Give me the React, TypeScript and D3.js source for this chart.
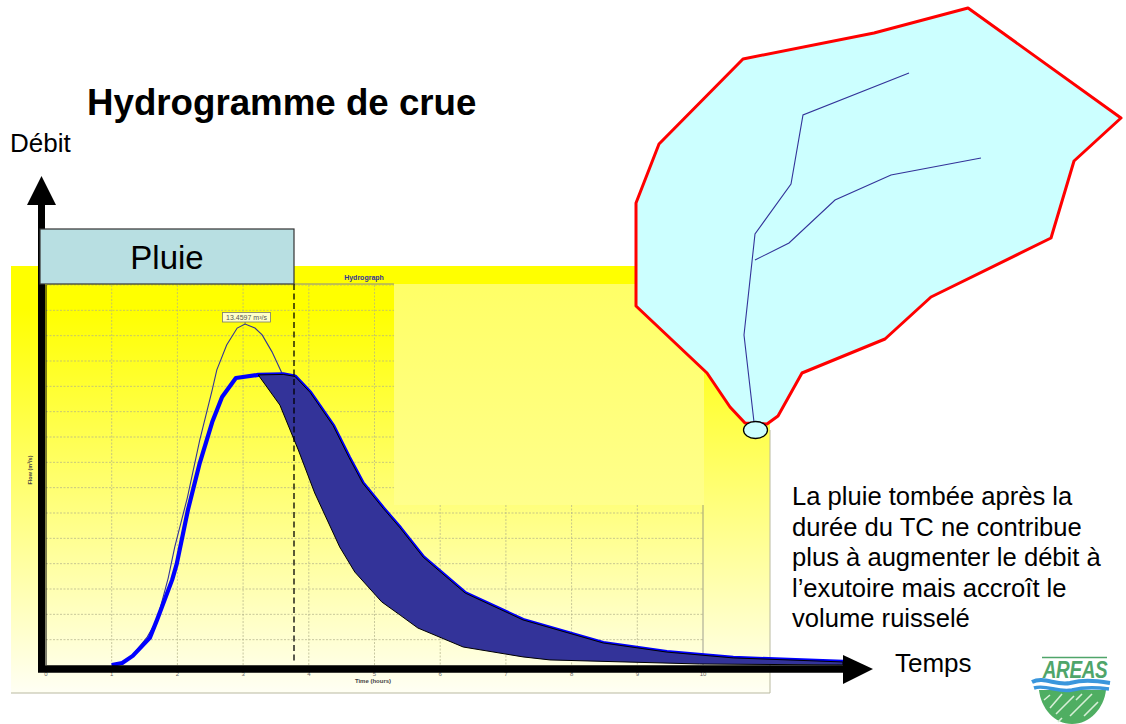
// Hydrogramme de crue: hydrograph with rain box, shaded extra volume and watershed sketch
import React from "react";
import * as d3 from "d3";

type Pt = [number, number];

// hours, m3/s
const fullCurve: Pt[] = [
  [1.0, 0], [1.16, 0.1], [1.32, 0.4], [1.54, 1.1], [1.69, 1.78], [1.86, 3.43],
  [1.96, 4.66], [2.15, 6.59], [2.34, 8.88], [2.53, 10.86], [2.6, 11.65], [2.75, 12.63],
  [2.91, 13.3], [3.03, 13.46], [3.18, 13.3], [3.29, 13.03], [3.44, 12.36], [3.59, 11.53],
];
const upperCurve: Pt[] = [
  [1.0, 0], [1.16, 0.08], [1.32, 0.36], [1.58, 1.07], [1.69, 1.78], [1.92, 3.36], [1.99, 3.99],
  [2.16, 6.12], [2.34, 7.97], [2.53, 9.59], [2.68, 10.58], [2.89, 11.33],
  [3.23, 11.45], [3.61, 11.47], [3.79, 11.39], [4.02, 10.76], [4.37, 9.45], [4.61, 8.2],
  [4.82, 7.18], [5.13, 6.19], [5.39, 5.41], [5.74, 4.26], [6.38, 2.84],
  [7.26, 1.78], [8.48, 0.87], [9.45, 0.51], [10.46, 0.28], [12.13, 0.12],
];
const lowerCurve: Pt[] = [
  [3.23, 11.45], [3.56, 10.26], [3.84, 8.49], [4.09, 6.79], [4.47, 4.66],
  [4.7, 3.67], [5.11, 2.49], [5.39, 1.97], [5.66, 1.46], [6.35, 0.71],
  [7.26, 0.32], [7.67, 0.2], [9.95, 0.04], [12.13, 0],
];
const hourTicks = [0, 1, 2, 3, 4, 5, 6, 7, 8, 9, 10];
const flowTicks = [1, 2, 3, 4, 5, 6, 7, 8, 9, 10, 11, 12, 13, 14, 15];
const rainEnd = 3.79;
const peakFlow = 13.46;
const peakHour = 3.03;

// watershed sketch, page coordinates
const basinOutline: Pt[] = [
  [743, 59], [874, 33], [968, 8], [1121, 118], [1074, 161], [1051, 238], [931, 297],
  [885, 339], [802, 373], [778, 416], [767, 424], [745, 423], [730, 407], [707, 373],
  [636, 306], [636, 203], [659, 144],
];
const mainRiver: Pt[] = [[909, 73], [803, 115], [791, 184], [755, 234], [744, 335], [754, 422]];
const sideRiver: Pt[] = [[981, 158], [891, 175], [835, 200], [789, 243], [755, 260]];

const noteLines = [
  "La pluie tombée après la",
  "durée du TC ne contribue",
  "plus à augmenter le débit à",
  "l’exutoire mais accroît le",
  "volume ruisselé",
];

const x = d3.scaleLinear().domain([0, 10]).range([46, 703]);
const y = d3.scaleLinear().domain([0, 15]).range([665, 285]);

const curve = d3.line<Pt>().x((d) => x(d[0])).y((d) => y(d[1]));
const page = d3.line<Pt>();
const band = [...upperCurve.filter((d) => d[0] >= 3.23), ...[...lowerCurve].reverse()];

const FONT = "'Liberation Sans', Arial, sans-serif";
const GRID_CUT = 505; // below this the picture's grid runs the full width

export default function App() {
  return (
    <svg
      width={1126}
      height={724}
      style={{ position: "absolute", left: 0, top: 0, background: "#fff" }}
      fontFamily={FONT}
    >
      <defs>
        <linearGradient id="bg" x1="0" y1="0" x2="0" y2="1">
          <stop offset="0" stopColor="#ffff00" />
          <stop offset="0.1" stopColor="#ffff00" />
          <stop offset="1" stopColor="#fffff4" />
        </linearGradient>
        <linearGradient id="wash" x1="0" y1="0" x2="0" y2="1">
          <stop offset="0" stopColor="#ffff66" />
          <stop offset="1" stopColor="#ffff8c" />
        </linearGradient>
      </defs>

      {/* chart background */}
      <rect x={11} y={266} width={759} height={427} fill="url(#bg)" />
      <rect x={394} y={284} width={310} height={221} fill="url(#wash)" />
      <path d="M770 430V693H11" fill="none" stroke="#b9b9a0" strokeWidth={1} />
      <text x={364} y={280} fontSize={7} fontWeight="bold" fill="#333399" textAnchor="middle">
        Hydrograph
      </text>
      <line x1={294} x2={394} y1={284} y2={284} stroke="#888" />

      {/* grid */}
      {flowTicks.map((q) => (
        <line
          key={q}
          x1={46}
          x2={y(q) < GRID_CUT ? 394 : x(10)}
          y1={y(q)}
          y2={y(q)}
          stroke="#b0b088"
          strokeWidth={0.7}
          strokeDasharray="2 1.5"
        />
      ))}
      {hourTicks.slice(1).map((h) => (
        <line
          key={h}
          x1={x(h)}
          x2={x(h)}
          y1={x(h) < 394 ? 285 : GRID_CUT}
          y2={665}
          stroke={h === 10 ? "#777" : "#b0b088"}
          strokeWidth={0.7}
          strokeDasharray={h === 10 ? undefined : "2 1.5"}
        />
      ))}
      {hourTicks.map((h) => (
        <text key={h} x={x(h)} y={676} fontSize={6} fill="#666" textAnchor="middle">
          {h}
        </text>
      ))}
      <text x={373} y={683} fontSize={6} fontWeight="bold" fill="#444" textAnchor="middle">
        Time (hours)
      </text>
      <text
        transform="translate(32,470) rotate(-90)"
        fontSize={5.5}
        fontWeight="bold"
        fill="#444"
        textAnchor="middle"
      >
        Flow (m³/s)
      </text>

      {/* curves */}
      <path d={curve(fullCurve) ?? ""} fill="none" stroke="#333399" strokeWidth={1.1} />
      <path d={curve(upperCurve) ?? ""} fill="none" stroke="#0000ff" strokeWidth={4.2} strokeLinejoin="round" />
      <path d={(curve(band) ?? "") + "Z"} fill="#333399" stroke="#000" strokeWidth={1} />

      {/* peak label */}
      <line x1={x(peakHour)} x2={x(peakHour)} y1={322} y2={y(peakFlow)} stroke="#555" strokeWidth={0.7} />
      <rect x={222.5} y={312.5} width={48} height={9.5} fill="#ffffc8" stroke="#777" strokeWidth={0.8} />
      <text x={246.5} y={320} fontSize={7} fill="#555" textAnchor="middle">
        13.4597 m³/s
      </text>

      {/* rain box and end of rain */}
      <line x1={x(rainEnd) - 1} x2={x(rainEnd) - 1} y1={284} y2={663} stroke="#000" strokeWidth={1.3} strokeDasharray="6 3.5" />
      <line x1={46} x2={46} y1={285} y2={665} stroke="#000" strokeWidth={1} />
      <path d="M41.5 672V205" stroke="#000" strokeWidth={7} />
      <path d="M41.5 176L56 205H27Z" fill="#000" />
      <path d="M38 669H845" stroke="#000" strokeWidth={7.5} />
      <path d="M873 669L843 655V684Z" fill="#000" />
      <rect x={40} y={229} width={254} height={55} fill="#b8dfe2" stroke="#333" strokeWidth={1.2} />
      <text x={167} y={269} fontSize={33} textAnchor="middle" fill="#000">
        Pluie
      </text>

      {/* watershed */}
      <path d={(page(basinOutline) ?? "") + "Z"} fill="#ccffff" stroke="#ff0000" strokeWidth={3} strokeLinejoin="round" />
      <path d={page(mainRiver) ?? ""} fill="none" stroke="#333399" strokeWidth={1.1} />
      <path d={page(sideRiver) ?? ""} fill="none" stroke="#333399" strokeWidth={1.1} />
      <ellipse cx={755.5} cy={430} rx={12} ry={8.5} fill="#ccffff" stroke="#000" strokeWidth={1.3} />

      {/* slide texts */}
      <text x={87} y={115} fontSize={36.7} fontWeight="bold" fill="#000">
        Hydrogramme de crue
      </text>
      <text x={10} y={152} fontSize={26} fill="#000">
        Débit
      </text>
      <text x={895} y={672} fontSize={26} fill="#000">
        Temps
      </text>
      {noteLines.map((t, i) => (
        <text key={t} x={792} y={505 + i * 30.5} fontSize={25.6} fill="#000">
          {t}
        </text>
      ))}

      {/* logo */}
      <line x1={1042} x2={1107} y1={657.5} y2={657.5} stroke="#4fa56a" strokeWidth={1.5} />
      <text
        transform="translate(1075,678) scale(0.79,1)"
        fontSize={24}
        fontWeight="bold"
        fontStyle="italic"
        fill="#4fa56a"
        textAnchor="middle"
        letterSpacing={-0.5}
      >
        AREAS
      </text>
      <path d="M1039 690H1106C1104 708 1090 724 1072 724C1054 724 1041 708 1039 690Z" fill="#4fae62" />
      <path
        d="M1050 695L1044 700M1062 694L1050 708M1074 696L1056 714M1092 694L1070 716M1098 702L1084 716M1062 718L1058 722M1082 694L1076 700"
        stroke="#d8efd8"
        strokeWidth={1.6}
      />
      <path
        d="M1032 682C1044 676 1056 686 1070 683C1082 680 1092 680 1110 683"
        fill="none"
        stroke="#3a96dc"
        strokeWidth={4}
      />
      <path
        d="M1034 688C1046 684 1058 693 1072 690C1084 687 1094 687 1109 689"
        fill="none"
        stroke="#3a96dc"
        strokeWidth={3.5}
      />
    </svg>
  );
}
